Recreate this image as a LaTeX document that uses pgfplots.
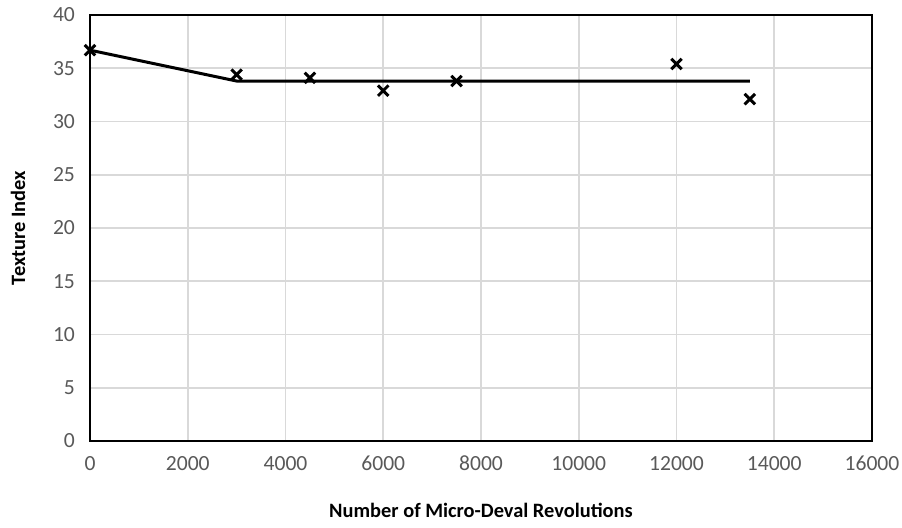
\documentclass[border=0pt]{standalone}
\usepackage{fontspec}
\setmainfont{Carlito}
\usepackage{pgfplots}
\pgfplotsset{compat=1.18}
\definecolor{tickgray}{HTML}{595959}
\definecolor{gridgray}{HTML}{D9D9D9}
\begin{document}
\begin{tikzpicture}
\useasboundingbox (-45pt,-43pt) rectangle (406pt,220.5pt);
\begin{axis}[
  at={(0,0)}, anchor=south west,
  scale only axis, width=391pt, height=213pt,
  xmin=0, xmax=16000, ymin=0, ymax=40,
  xtick={0,2000,...,16000}, ytick={0,5,...,40},
  /pgf/number format/assume math mode=true,
  /pgf/number format/1000 sep={},
  scaled x ticks=false,
  xmajorgrids, ymajorgrids,
  grid style={gridgray, line width=0.8pt},
  axis line style={black, line width=1.4pt},
  tick style={draw=none},
  ticklabel style={font=\fontsize{10.8}{12}\selectfont, text=tickgray},
  xticklabel style={yshift=-4pt},
  yticklabel style={xshift=-4pt},
  xlabel={\textbf{Number of Micro-Deval Revolutions}},
  ylabel={\textbf{Texture Index}},
  label style={font=\fontsize{10.2}{12}\selectfont},
  xlabel style={at={(axis description cs:0.5,-0.162)}, anchor=center},
  ylabel style={at={(axis description cs:-0.092,0.5)}, anchor=center},
  clip=false,
]
\addplot[black, line width=1.5pt, no marks] coordinates {
  (0,36.7) (3000,33.8) (13500,33.8)
};
\addplot[only marks, mark=x, mark size=3.7pt, mark options={black, line width=1.5pt}] coordinates {
  (0,36.7) (3000,34.4) (4500,34.1) (6000,32.9) (7500,33.8) (12000,35.4) (13500,32.1)
};
\end{axis}
\end{tikzpicture}
\end{document}
